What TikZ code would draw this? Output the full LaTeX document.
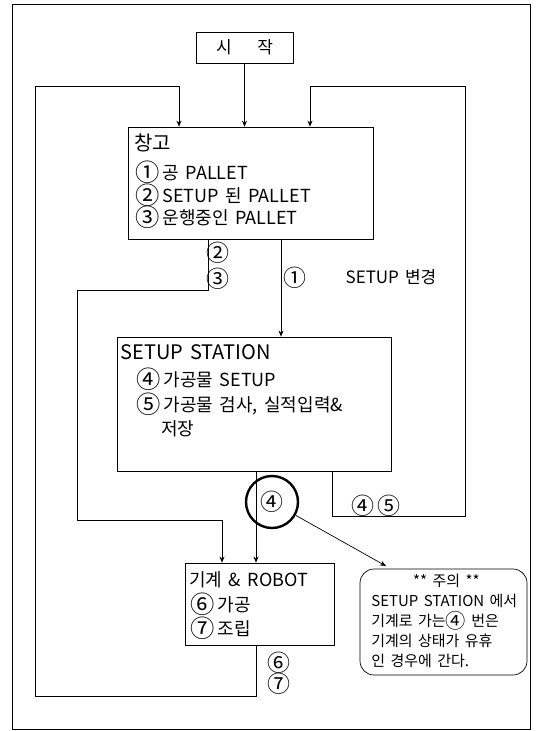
\documentclass[tikz,border=0pt]{standalone}
\usepackage{fontspec}
\usepackage{graphicx}
\setmainfont{Noto Sans CJK KR}[WordSpace=1.6]
\usetikzlibrary{arrows.meta}
\newcommand\cnum[1]{\raisebox{-0.12em}{\scalebox{1.35}{#1}}}
\begin{document}
\begin{tikzpicture}[x=1pt, y=-1pt, >={Stealth[length=6pt,width=5pt]}, line width=0.7pt,
  box/.style={draw, inner sep=0pt},
  head/.style={anchor=west, inner sep=0pt, font=\fontsize{20}{24}\selectfont},
  item/.style={anchor=west, inner sep=0pt, font=\fontsize{18}{22}\selectfont},
  lbl/.style={inner sep=0pt, font=\fontsize{17}{20}\selectfont}]
  \useasboundingbox (0,0) rectangle (536,731);
  \draw (12,4) rectangle (530,729);

  \node[box, minimum width=97pt, minimum height=31pt, font=\fontsize{17}{20}\selectfont] (start) at (244.5,47.5) {시\hspace{1.5em}작};

  \node[box, minimum width=245pt, minimum height=112pt] (store) at (250.5,183) {};
  \node[head] (storehead) at (134,143) {창고};
  \node[item] (store1) at (135,172) {\cnum{①}\,공 PALLET};
  \node[item] (store2) at (135,195) {\cnum{②}\,SETUP 된 PALLET};
  \node[item] (store3) at (135,217) {\cnum{③}\,운행중인 PALLET};

  \node[box, minimum width=274pt, minimum height=134pt] (setup) at (254,404) {};
  \node[head] (setuphead) at (120,352) {SETUP STATION};
  \node[item] (setup1) at (136,379) {\cnum{④}\,가공물 SETUP};
  \node[item] (setup2) at (136,404) {\cnum{⑤}\,가공물 검사, 실적입력\&};
  \node[item] (setup3) at (161,429) {저장};

  \node[box, minimum width=149pt, minimum height=82pt] (machine) at (259.5,604) {};
  \node[item] (machinehead) at (189,580) {기계 \& ROBOT};
  \node[item] (machine1) at (190,604) {\cnum{⑥}\,가공};
  \node[item] (machine2) at (190,628) {\cnum{⑦}\,조립};

  \node[box, rounded corners=14pt, minimum width=167pt, minimum height=106pt] (note) at (443.5,622) {};
  \node[anchor=north west, align=left, inner sep=0pt, font=\fontsize{15}{20}\selectfont] (notetxt) at (371,574)
    {\makebox[150pt]{** 주의 **}\\SETUP STATION 에서\\기계로 가는\cnum{④} 번은\\기계의 상태가 유휴\\인 경우에 간다.};
  \coordinate (notetip) at (386,566);

  \node[lbl] (lab2) at (218,253) {\cnum{②}};
  \node[lbl] (lab3) at (218,279) {\cnum{③}};
  \node[lbl] (lab1) at (295,278) {\cnum{①}};
  \node[lbl] (change) at (391,277) {SETUP 변경};
  \node[lbl] (lab45) at (376,506) {\cnum{④}\,\cnum{⑤}};
  \node[lbl] (lab6) at (279,663) {\cnum{⑥}};
  \node[lbl] (lab7) at (279,684) {\cnum{⑦}};
  \node[draw, circle, line width=2.4pt, minimum size=52pt, lbl] (ring) at (272,502) {\cnum{④}};

  \draw[->] (start) -- (start |- store.north);
  \draw[->] ([xshift=-3.5pt]machine.south) -- ++(0,51) -| (35,86) -| ([xshift=-71.5pt]store.north);
  \draw[->] ([xshift=78pt]setup.south) |- (465,516) -- (465,86) -| ([xshift=59.5pt]store.north);
  \draw[->] ([xshift=30.5pt]store.south) -- ([xshift=30.5pt]store.south |- setup.north);
  \draw[->] ([xshift=-42.5pt]store.south) |- (77,290) |- (222,520) -- ([xshift=-37.5pt]machine.north);
  \draw[->] ([xshift=2pt]setup.south) -- ([xshift=-3.5pt]machine.north);
  \draw[->] (ring) -- (notetip);
\end{tikzpicture}
\end{document}
